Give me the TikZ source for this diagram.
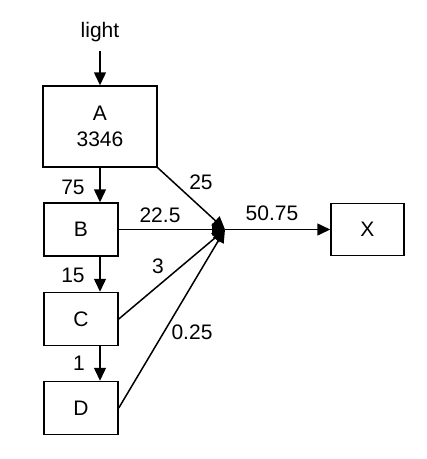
\documentclass[tikz,border=0pt]{standalone}
\usepackage{fontspec}
\setmainfont{Liberation Sans}
\usetikzlibrary{arrows.meta}
\begin{document}
\begin{tikzpicture}[x=1pt,y=-1pt,
  box/.style={draw,line width=1.5pt,inner sep=0pt,align=center,font=\fontsize{21}{26}\selectfont},
  lbl/.style={inner sep=0pt,font=\fontsize{21}{26}\selectfont},
  arr/.style={line width=1.5pt,-{Triangle[length=13pt,width=12pt]}},
  ln/.style={line width=1.5pt}]
\useasboundingbox (0,0) rectangle (427,459);
\node[box,minimum width=114pt,minimum height=81pt] (A) at (100,126.5) {A\\3346};
\node[box,minimum width=74pt,minimum height=53pt] (B) at (81,229.5) {B};
\node[box,minimum width=74pt,minimum height=53pt] (C) at (81,319) {C};
\node[box,minimum width=74pt,minimum height=53pt] (D) at (81,408) {D};
\node[box,minimum width=73pt,minimum height=52pt] (X) at (367.5,229.5) {X};
\node[lbl] (light) at (100,32) {light};
\coordinate (L) at (100,51);
\coordinate (J) at (225,229.5);
\draw[arr] (L) -- (A.north);
\draw[arr] (A.south) -- (A.south |- B.north);
\draw[arr] (B.south -| A.south) -- (C.north -| A.south);
\draw[arr] (C.south -| A.south) -- (D.north -| A.south);
\draw[arr] (A.south east) -- (J);
\draw[arr] (B.east) -- (J);
\draw[arr] (C.east) -- (J);
\draw[arr] (D.east) -- (J);
\draw[arr] (J) -- (J -| X.west);
\node[lbl] (l75) at (73,187) {75};
\node[lbl] (l25) at (201,182) {25};
\node[lbl] (l225) at (160,215) {22.5};
\node[lbl] (l15) at (73,275) {15};
\node[lbl] (l3) at (158,266) {3};
\node[lbl] (l1) at (79,363) {1};
\node[lbl] (l025) at (192,332) {0.25};
\node[lbl] (l5075) at (272,213) {50.75};
\end{tikzpicture}
\end{document}
